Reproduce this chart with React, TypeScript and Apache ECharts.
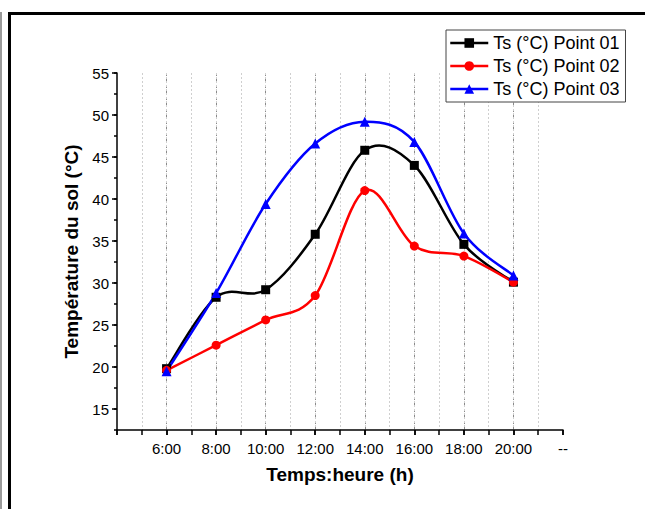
import React, { useEffect, useRef } from "react";
import * as echarts from "echarts";

const hours = [6, 8, 10, 12, 14, 16, 18, 20];
const point01 = [19.8, 28.3, 29.2, 35.8, 45.8, 44.0, 34.6, 30.1];
const point02 = [19.6, 22.6, 25.6, 28.5, 41.0, 34.4, 33.2, 30.1];
const point03 = [19.5, 28.8, 39.4, 46.6, 49.2, 46.8, 35.9, 30.9];
const seriesNames = ["Ts (°C) Point 01", "Ts (°C) Point 02", "Ts (°C) Point 03"];
const seriesColors = ["#000000", "#ff0000", "#0000ff"];
const yMajorTicks = [15, 20, 25, 30, 35, 40, 45, 50, 55];

const FONT = "Liberation Sans, Arial, sans-serif";

export default function App() {
  const ref = useRef<HTMLDivElement>(null);
  useEffect(() => {
    if (!ref.current) return;
    const chart = echarts.init(ref.current, null, { renderer: "svg" });
    const mk = (vals: number[]) => hours.map((h, i) => [h, vals[i]]);
    const baseX = { type: "value", min: 4, max: 22 };
    const baseY = { type: "value", min: 12.5, max: 55, interval: 2.5 };

    // spline curve (Catmull-Rom style cubic segments) through the data points
    const splineSeries = (vals: number[], color: string) => ({
      type: "custom",
      coordinateSystem: "cartesian2d",
      xAxisIndex: 0,
      yAxisIndex: 0,
      data: mk(vals),
      silent: true,
      z: 2,
      renderItem: (params: any, api: any) => {
        const i = params.dataIndex;
        const n = vals.length;
        if (i >= n - 1) return { type: "group", children: [] };
        const P = (j: number) => {
          const k = Math.max(0, Math.min(n - 1, j));
          return api.coord([hours[k], vals[k]]);
        };
        const p0 = P(i - 1);
        const p1 = P(i);
        const p2 = P(i + 1);
        const p3 = P(i + 2);
        return {
          type: "bezierCurve",
          shape: {
            x1: p1[0],
            y1: p1[1],
            x2: p2[0],
            y2: p2[1],
            cpx1: p1[0] + (p2[0] - p0[0]) / 6,
            cpy1: p1[1] + (p2[1] - p0[1]) / 6,
            cpx2: p2[0] - (p3[0] - p1[0]) / 6,
            cpy2: p2[1] - (p3[1] - p1[1]) / 6,
          },
          style: { stroke: color, lineWidth: 2.5, fill: "none" },
        };
      },
    });

    const markerSeries = (idx: number, vals: number[], symbol: string, size: number) => ({
      name: seriesNames[idx],
      type: "line",
      data: mk(vals),
      symbol,
      symbolSize: size,
      lineStyle: { color: seriesColors[idx], width: 2.5, opacity: 0 },
      itemStyle: { color: seriesColors[idx] },
      z: 3,
    });

    chart.setOption({
      animation: false,
      backgroundColor: "#ffffff",
      grid: { left: 117, right: 82, top: 73, bottom: 79 },
      legend: {
        left: 446,
        top: 30,
        orient: "vertical",
        data: seriesNames.map((name, i) => ({
          name,
          lineStyle: { color: seriesColors[i], width: 2.5, opacity: 1 },
        })),
        itemWidth: 38,
        itemHeight: 12,
        itemGap: 5,
        padding: [4, 6, 4, 3],
        borderColor: "#444",
        borderWidth: 1,
        backgroundColor: "#fff",
        textStyle: { fontFamily: FONT, fontSize: 18, color: "#000" },
      },
      xAxis: [
        {
          ...baseX,
          interval: 2,
          name: "Temps:heure (h)",
          nameLocation: "middle",
          nameGap: 35,
          nameTextStyle: { fontFamily: FONT, fontSize: 19, fontWeight: "bold", color: "#000" },
          axisLine: { lineStyle: { color: "#000", width: 1.5 } },
          axisTick: { length: 5, lineStyle: { color: "#000", width: 1.5 } },
          axisLabel: {
            fontFamily: FONT,
            fontSize: 15,
            color: "#000",
            margin: 11,
            showMinLabel: true,
            showMaxLabel: true,
            formatter: (v: number) => (v === 4 ? "" : v === 22 ? "--" : `${v}:00`),
          },
          splitLine: {
            show: true,
            showMinLine: false,
            showMaxLine: false,
            lineStyle: { color: "#8a8a8a", type: [3, 3], width: 1 },
          },
        },
        {
          ...baseX,
          interval: 1,
          position: "bottom",
          axisLine: { show: false },
          axisTick: { length: 5, lineStyle: { color: "#000", width: 1.5 } },
          axisLabel: { show: false },
          splitLine: {
            show: true,
            showMinLine: false,
            showMaxLine: false,
            lineStyle: { color: "#cfcfcf", type: [2, 2], width: 1 },
          },
        },
      ],
      yAxis: [
        {
          ...baseY,
          name: "Température du sol (°C)",
          nameLocation: "middle",
          nameGap: 30,
          nameTextStyle: { fontFamily: FONT, fontSize: 19, fontWeight: "bold", color: "#000" },
          axisLine: { show: true, lineStyle: { color: "#000", width: 1.5 } },
          axisTick: { show: true, length: 3, lineStyle: { color: "#000", width: 1.5 } },
          axisLabel: {
            fontFamily: FONT,
            fontSize: 15,
            color: "#000",
            margin: 8,
            formatter: (v: number) => (Math.abs(v % 5) < 1e-6 ? String(v) : ""),
          },
          splitLine: { show: false },
        },
        {
          ...baseY,
          position: "left",
          offset: 0,
          axisLine: { show: false },
          axisTick: { show: true, length: 5, customValues: yMajorTicks, lineStyle: { color: "#000", width: 1.5 } },
          axisLabel: { show: false },
          splitLine: { show: false },
        },
      ],
      series: [
        splineSeries(point01, seriesColors[0]),
        splineSeries(point02, seriesColors[1]),
        splineSeries(point03, seriesColors[2]),
        markerSeries(0, point01, "rect", 9),
        markerSeries(1, point02, "circle", 9),
        markerSeries(2, point03, "triangle", 10),
      ],
      graphic: [
        {
          type: "rect",
          shape: { x: 0, y: 12, width: 2, height: 520 },
          style: { fill: "#9a9a9a" },
          silent: true,
        },
        {
          type: "rect",
          shape: { x: 9.5, y: 13.5, width: 700, height: 600 },
          style: { fill: "none", stroke: "#000", lineWidth: 3 },
          silent: true,
        },
      ],
    });
    return () => chart.dispose();
  }, []);
  return (
    <div
      ref={ref}
      style={{ position: "fixed", left: 0, top: 0, width: 645, height: 509 }}
    />
  );
}
